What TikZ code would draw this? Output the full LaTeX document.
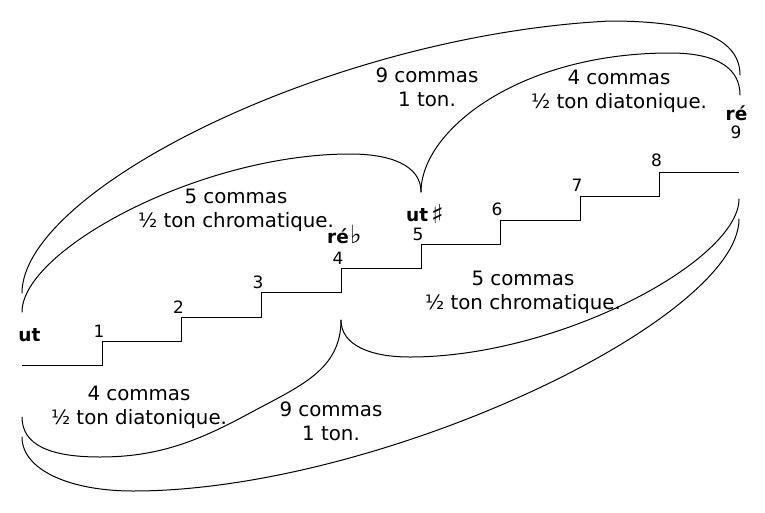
\documentclass[tikz,border=0pt]{standalone}
\usepackage{fontspec}
\setmainfont{DejaVu Sans}
\tikzset{
  lbl/.style={font=\fontsize{19.8}{24}\selectfont, anchor=base, inner sep=0pt},
  num/.style={font=\fontsize{17}{20}\selectfont, anchor=base, inner sep=0pt},
  note/.style={font=\bfseries\fontsize{18.5}{22}\selectfont, anchor=base, inner sep=0pt},
  notew/.style={font=\fontsize{18.5}{22}\selectfont, anchor=base west, inner sep=0pt},
  brace/.style={line width=1pt, line cap=round},
  stair/.style={line width=1pt},
}
\newcommand{\flatsign}{{\fontsize{25}{25}\selectfont ♭}}
\newcommand{\sharpsign}{\raisebox{-2pt}{\fontsize{26}{26}\selectfont ♯}}
\begin{document}
\begin{tikzpicture}[x=1pt,y=-1pt]
\useasboundingbox (0,0) rectangle (765,512);
% staircase corners
\coordinate (s0) at (22,365);
\coordinate (c1) at (102,341);
\coordinate (c2) at (181.5,317);
\coordinate (c3) at (261,292.5);
\coordinate (c4) at (341,268.5);
\coordinate (c5) at (421,244.5);
\coordinate (c6) at (500,220);
\coordinate (c7) at (580,196);
\coordinate (c8) at (659.5,172);
\coordinate (s9) at (739,172);
\draw[stair] (s0) -| (c1) -| (c2) -| (c3) -| (c4) -| (c5) -| (c6) -| (c7) -| (c8) -- (s9);
% step numbers
\node[num] (n1) at (99,337) {1};
\node[num] (n2) at (178.5,313) {2};
\node[num] (n3) at (258,288.5) {3};
\node[num] (n4) at (338,264.5) {4};
\node[num] (n5) at (418,240) {5};
\node[num] (n6) at (497,215) {6};
\node[num] (n7) at (577,191) {7};
\node[num] (n8) at (656.5,166) {8};
\node[num] (n9) at (736,138) {9};
% note names
\node[note] (ut) at (29.5,341) {ut};
\node[notew] (reb) at (327,243) {\textbf{ré}\kern1pt\flatsign};
\node[notew] (uts) at (406,221) {\textbf{ut}\kern3pt\sharpsign};
\node[note] (re) at (736.5,120) {ré};
% brace end points
\coordinate (L1) at (22,293);
\coordinate (L2) at (22,312);
\coordinate (L3) at (22,417);
\coordinate (L4) at (22,437);
\coordinate (C1) at (421,192);
\coordinate (C2) at (341,320);
\coordinate (R1) at (740,75);
\coordinate (R2) at (740,95);
\coordinate (R3) at (739,199);
\coordinate (R4) at (739,219);
% top braces
\draw[brace] (L1) .. controls (22,190) and (330,35) .. (610,21)
                  .. controls (700,21) and (740,40) .. (R1);
\draw[brace] (L2) .. controls (22,250) and (200,154) .. (350,154)
                  .. controls (390,154) and (421,165) .. (C1);
\draw[brace] (C1) .. controls (421,130) and (520,53) .. (670,53)
                  .. controls (720,53) and (740,70) .. (R2);
% bottom braces
\draw[brace] (L3) .. controls (22,445) and (50,457) .. (100,457)
                  .. controls (160,457) and (200,440) .. (250,413)
                  .. controls (300,386) and (341,370) .. (C2);
\draw[brace] (C2) .. controls (341,345) and (370,357) .. (410,357)
                  .. controls (560,357) and (739,260) .. (R3);
\draw[brace] (L4) .. controls (22,470) and (70,491) .. (133,491)
                  .. controls (380,491) and (739,320) .. (R4);
% brace labels
\node[lbl] (t1a) at (427,82) {9 commas};
\node[lbl] (t1b) at (427,106) {1 ton.};
\node[lbl] (t2a) at (619,84.5) {4 commas};
\node[lbl] (t2b) at (619,108.5) {½ ton diatonique.};
\node[lbl] (t3a) at (236,203) {5 commas};
\node[lbl] (t3b) at (236,227) {½ ton chromatique.};
\node[lbl] (t4a) at (523,285) {5 commas};
\node[lbl] (t4b) at (523,309) {½ ton chromatique.};
\node[lbl] (t5a) at (139,400) {4 commas};
\node[lbl] (t5b) at (139,424) {½ ton diatonique.};
\node[lbl] (t6a) at (331,416.5) {9 commas};
\node[lbl] (t6b) at (331,440.5) {1 ton.};
\end{tikzpicture}
\end{document}
